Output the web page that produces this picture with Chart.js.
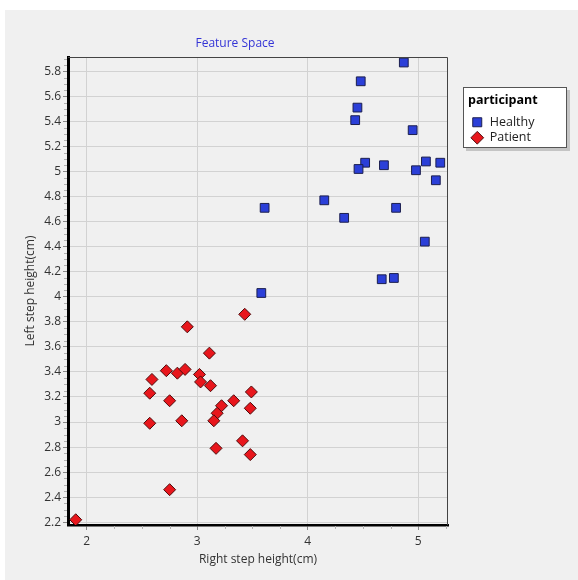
<!DOCTYPE html>
<html>
<head>
<meta charset="utf-8">
<script src="https://cdn.jsdelivr.net/npm/chart.js@4.4.1/dist/chart.umd.min.js"></script>
<style>
  body { margin: 0; background: #ffffff; }
  #canvas { position: absolute; left: 5px; top: 10px; background: #f0f0f0; }
</style>
</head>
<body>
<canvas id="canvas" width="573" height="570"></canvas>
<script>
// Right step height (x) and left step height (y), in cm
const healthyRight = [4.87, 4.48, 4.45, 4.43, 4.95, 4.52, 4.46, 4.69, 5.07, 5.20, 4.98, 5.16, 4.15, 4.80, 4.33, 5.06, 4.67, 4.78, 3.61, 3.58]
const healthyLeft  = [5.87, 5.72, 5.51, 5.41, 5.33, 5.07, 5.02, 5.05, 5.08, 5.07, 5.01, 4.93, 4.77, 4.71, 4.63, 4.44, 4.14, 4.15, 4.71, 4.03]
const patientRight = [1.90, 2.75, 3.43, 2.91, 3.11, 2.72, 2.82, 2.89, 2.59, 3.02, 3.03, 2.57, 3.12, 3.49, 2.75, 3.33, 3.22, 3.18, 3.48, 3.15, 2.86, 2.57, 3.17, 3.41, 3.48]
const patientLeft  = [2.22, 2.46, 3.86, 3.76, 3.55, 3.41, 3.39, 3.42, 3.34, 3.38, 3.32, 3.23, 3.29, 3.24, 3.17, 3.17, 3.13, 3.07, 3.11, 3.01, 3.01, 2.99, 2.79, 2.85, 2.74]

const pts = (xs, ys) => xs.map((x, i) => ({ x: x, y: ys[i] }))

const font = '"Open Sans", "Noto Sans", sans-serif'

const data = {
  datasets: [
    {
      label: 'Healthy',
      data: pts(healthyRight, healthyLeft),
      pointStyle: 'rect',
      pointRadius: 6.2,
      pointHoverRadius: 6.2,
      backgroundColor: '#2b3fd8',
      borderColor: '#1c1f4f',
      borderWidth: 1,
    },
    {
      label: 'Patient',
      data: pts(patientRight, patientLeft),
      pointStyle: 'rectRot',
      pointRadius: 6,
      pointHoverRadius: 6,
      backgroundColor: '#e8161c',
      borderColor: '#4d0b0b',
      borderWidth: 1,
    },
  ],
}

// legend sizing, frame, minor ticks, title and legend box
const extras = {
  id: 'extras',
  beforeUpdate(chart) {
    const lg = chart.legend
    if (lg && !lg._patched) {
      const fit = lg.fit
      lg.fit = function () {
        fit.call(this)
        this.width = 119
      }
      lg._patched = true
    }
  },
  afterLayout(chart) {
    const lg = chart.legend
    if (lg) {
      lg.left = chart.chartArea.right + 20
      lg.right = lg.left + 100
    }
  },
  beforeDraw(chart) {
    const ctx = chart.ctx
    const lg = chart.legend
    if (lg) {
      const x = lg.left - 5, y = lg.top + 30, w = 104, h = 61
      ctx.save()
      ctx.fillStyle = '#c4c4c4'
      ctx.fillRect(x + 3, y + 3, w, h)
      ctx.fillStyle = '#ffffff'
      ctx.fillRect(x, y, w, h)
      ctx.strokeStyle = '#555555'
      ctx.lineWidth = 1
      ctx.strokeRect(x + 0.5, y + 0.5, w - 1, h - 1)
      ctx.restore()
    }
  },
  afterDraw(chart) {
    const ctx = chart.ctx
    const a = chart.chartArea
    const xs = chart.scales.x, ys = chart.scales.y
    ctx.save()
    // thin top and right frame
    ctx.strokeStyle = '#444444'
    ctx.lineWidth = 1
    ctx.beginPath()
    ctx.moveTo(a.left, a.top + 0.5)
    ctx.lineTo(a.right - 0.5, a.top + 0.5)
    ctx.lineTo(a.right - 0.5, a.bottom)
    ctx.stroke()
    // minor ticks
    ctx.strokeStyle = '#b0b0b0'
    ctx.beginPath()
    for (let v = 1.75; v <= xs.max; v += 0.25) {
      if (v < xs.min || Math.abs(v - Math.round(v)) < 0.01) continue
      const px = Math.round(xs.getPixelForValue(v)) + 0.5
      ctx.moveTo(px, a.bottom + 1)
      ctx.lineTo(px, a.bottom + 4)
    }
    for (let v = 2.2; v <= ys.max; v += 0.05) {
      const k = Math.round(v / 0.05)
      if (k % 4 === 0) continue
      const py = Math.round(ys.getPixelForValue(v)) + 0.5
      ctx.moveTo(a.left - 4, py)
      ctx.lineTo(a.left - 1, py)
    }
    ctx.stroke()
    // title
    ctx.fillStyle = '#3434d6'
    ctx.font = '12px ' + font
    ctx.textAlign = 'center'
    ctx.textBaseline = 'middle'
    ctx.fillText('Feature Space', 230, 34)
    ctx.restore()
  },
}

const config = {
  type: 'scatter',
  data: data,
  options: {
    responsive: false,
    devicePixelRatio: 1,
    animation: false,
    layout: { padding: { left: 10, top: 47, right: 11, bottom: 13 } },
    plugins: {
      title: { display: false },
      tooltip: { enabled: false },
      legend: {
        position: 'right',
        align: 'start',
        title: {
          display: true,
          text: 'participant',
          color: '#000000',
          position: 'start',
          font: { family: font, size: 12.5, weight: 'bold' },
          padding: { top: 37, bottom: 4 },
        },
        labels: {
          usePointStyle: true,
          color: '#222222',
          font: { family: font, size: 12.5 },
          padding: 3,
          boxHeight: 9,
        },
      },
    },
    scales: {
      x: {
        type: 'linear',
        min: 1.83,
        max: 5.27,
        afterFit(s) { s.height = 42 },
        border: { color: '#000000', width: 2.5 },
        grid: { color: '#d2d2d2', tickColor: '#888888', tickLength: 5 },
        ticks: {
          stepSize: 1,
          includeBounds: false,
          color: '#333333',
          font: { family: font, size: 12 },
          padding: 4,
        },
        title: {
          display: true,
          text: 'Right step height(cm)',
          color: '#333333',
          font: { family: font, size: 12 },
          padding: { top: 2, bottom: 0 },
        },
      },
      y: {
        type: 'linear',
        min: 2.178,
        max: 5.914,
        afterFit(s) { s.width = 53 },
        border: { color: '#000000', width: 3 },
        grid: { color: '#d2d2d2', tickColor: '#888888', tickLength: 5 },
        ticks: {
          stepSize: 0.2,
          includeBounds: false,
          color: '#333333',
          font: { family: font, size: 12 },
          padding: 2,
          callback: v => String(Number(v.toFixed(1))),
        },
        title: {
          display: true,
          text: 'Left step height(cm)',
          color: '#333333',
          font: { family: font, size: 12 },
          padding: { top: 8, bottom: 0 },
        },
      },
    },
  },
  plugins: [extras],
}

const canvas = document.getElementById('canvas')
const chart = new Chart(canvas, config)
</script>
</body>
</html>
